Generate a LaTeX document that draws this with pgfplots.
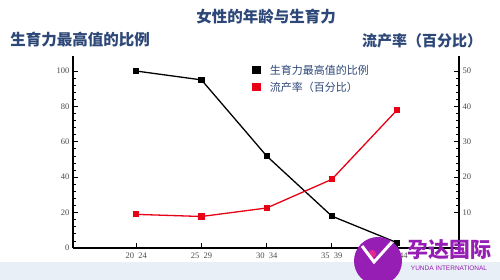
\documentclass[border=0pt]{standalone}
\usepackage{pgfplots}
\pgfplotsset{compat=1.18}
\usepackage{fontspec}
\setmainfont{Liberation Serif}
\newfontfamily\cjk{Noto Sans CJK SC}
\newfontfamily\latinsans{Liberation Sans}
\definecolor{titleblue}{RGB}{45,72,120}
\definecolor{bandblue}{RGB}{233,239,246}
\definecolor{logopurple}{RGB}{150,30,180}
\definecolor{logopink}{RGB}{230,40,140}
\definecolor{redline}{RGB}{232,0,20}
\begin{document}
\begin{tikzpicture}[x=1pt,y=1pt]
\useasboundingbox (0,0) rectangle (500,280);
\clip (0,0) rectangle (500,280);
\fill[white] (0,0) rectangle (500,280);
\fill[bandblue] (0,0) rectangle (500,18);
\begin{axis}[
  at={(73pt,32pt)}, anchor=south west,
  scale only axis, width=386pt, height=192pt,
  xmin=-0.97, xmax=4.95, ymin=0, ymax=108.5,
  axis y line*=left, axis x line*=bottom,
  axis line style={line width=1.2pt, -},
  xtick={0,1,2,3,4},
  xticklabels={20\ \ 24,25\ \ 29,30\ \ 34,35\ \ 39,40\ \ 44},
  ytick={0,20,40,60,80,100},
  minor y tick num=4,
  tick align=inside,
  major tick length=5pt, minor tick length=3pt,
  tick style={black, line width=0.8pt},
  /pgf/number format/assume math mode=true,
  ticklabel style={font=\fontsize{8.5}{9}\selectfont, text=black!70},
  xticklabel style={yshift=-1pt},
  clip=false,
]
\addplot[black, line width=1.3pt, mark=square*, mark size=2.4pt] coordinates {(0,100) (1,95) (2,52) (3,18) (4,3)};
\end{axis}
\begin{axis}[
  at={(73pt,32pt)}, anchor=south west,
  scale only axis, width=386pt, height=192pt,
  xmin=-0.97, xmax=4.95, ymin=0, ymax=54.25,
  axis y line*=right, axis x line=none,
  axis line style={line width=1.2pt, -},
  ytick={10,20,30,40,50},
  minor y tick num=4,
  tick align=inside,
  major tick length=5pt, minor tick length=3pt,
  tick style={black, line width=0.8pt},
  /pgf/number format/assume math mode=true,
  ticklabel style={font=\fontsize{8.5}{9}\selectfont, text=black!70},
  legend style={draw=none, fill=none, at={(0.45,0.975)}, anchor=north west,
    font=\cjk\fontsize{11}{13}\selectfont, text=titleblue, row sep=2pt},
  legend cell align=left,
]
\addlegendimage{legend image code/.code={\fill[black, draw=none] (2pt,-4pt) rectangle (11pt,4pt); \path[draw=none, fill=none] (0pt,0pt) rectangle (18pt,0.1pt);}}
\addlegendentry{生育力最高值的比例}
\addlegendimage{legend image code/.code={\fill[redline, draw=none] (2pt,-4pt) rectangle (11pt,4pt); \path[draw=none, fill=none] (0pt,0pt) rectangle (18pt,0.1pt);}}
\addlegendentry{流产率（百分比）}
\addplot[redline, line width=1.3pt, mark=square*, mark size=2.4pt, forget plot] coordinates {(0,9.5) (1,8.9) (2,11.3) (3,19.4) (4,39)};
\end{axis}
\node[font=\cjk\bfseries\fontsize{15.5}{17}\selectfont, text=titleblue] at (266,263) {女性的年龄与生育力};
\node[font=\cjk\bfseries\fontsize{15.5}{17}\selectfont, text=titleblue] at (80,240) {生育力最高值的比例};
\node[font=\cjk\bfseries\fontsize{15}{17}\selectfont, text=titleblue] at (422,239) {流产率（百分比）};
% logo
\fill[logopurple] (378,19) circle (24);
\fill[logopink] (372,26) circle (4);
\draw[white, line width=3pt] (362,34) -- (374,18) -- (392,38);
\node[font=\cjk\bfseries\fontsize{21}{23}\selectfont, text=logopurple] at (449,30) {孕达国际};
\node[font=\latinsans\fontsize{6.5}{7}\selectfont, text=logopurple] at (449,12) {YUNDA INTERNATIONAL};
\end{tikzpicture}
\end{document}
